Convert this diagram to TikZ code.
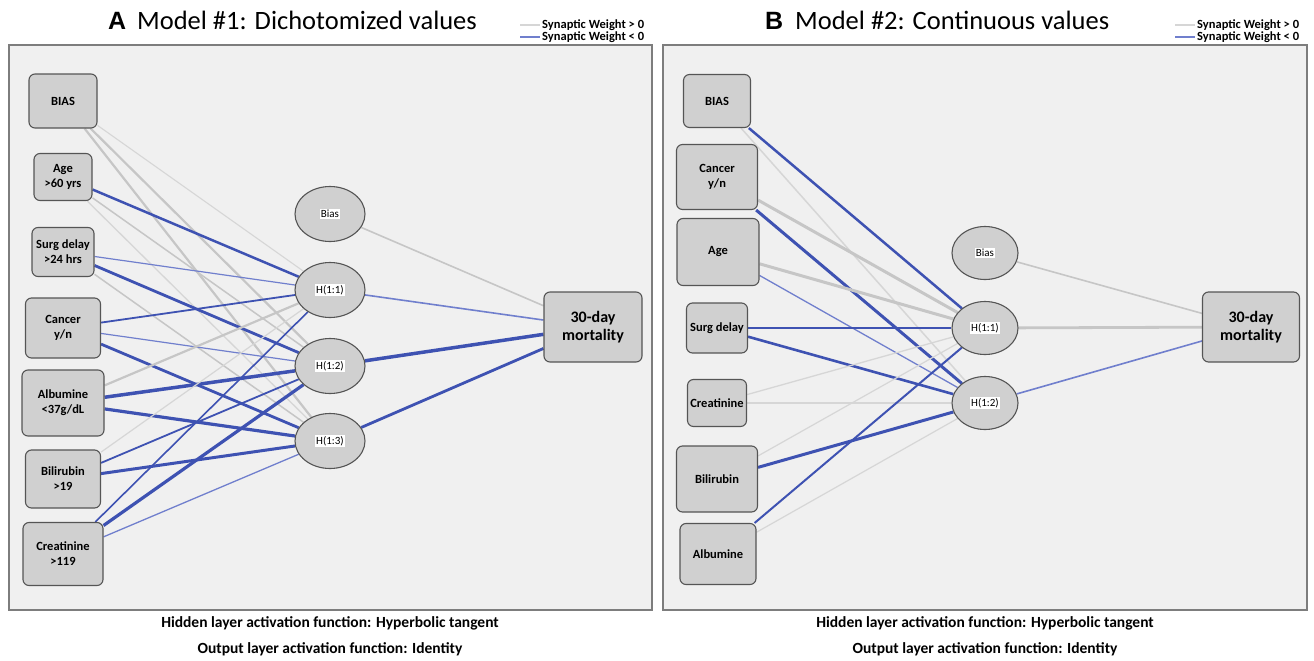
\documentclass[tikz,border=0pt]{standalone}
\usepackage{fontspec}
\setmainfont{Carlito}
\newfontfamily\arialfont{Liberation Sans}
\usetikzlibrary{shapes.geometric}
\definecolor{wneg}{RGB}{62,82,178}
\definecolor{wnegl}{RGB}{112,127,205}
\definecolor{wpos}{RGB}{198,198,198}
\definecolor{wposl}{RGB}{214,214,214}
\definecolor{panelbg}{RGB}{240,240,240}
\definecolor{nodefill}{RGB}{208,208,208}
\definecolor{nodeline}{RGB}{85,85,85}
\definecolor{framecol}{RGB}{125,125,125}
\newcommand\hidlab[1]{{\setlength{\fboxsep}{1pt}\colorbox{white}{#1}}}
\pgfdeclarelayer{bglayer}
\pgfdeclarelayer{edgelayer}
\pgfsetlayers{bglayer,edgelayer,main}
\begin{document}
\begin{tikzpicture}[x=1pt,y=-1pt,
  inbox/.style={draw=nodeline, fill=nodefill, rounded corners=6pt, line width=1.1pt, align=center, inner sep=0pt, font=\fontsize{12.5}{15}\selectfont\bfseries},
  outbox/.style={inbox, font=\fontsize{16}{18.5}\selectfont\bfseries},
  sz/.style 2 args={minimum width=#1pt, minimum height=#2pt},
  hid/.style={ellipse, draw=nodeline, fill=nodefill, line width=1.1pt, inner sep=0pt, minimum width=70pt, minimum height=55pt, font=\fontsize{11}{12}\selectfont},
  hidb/.style={hid, minimum width=66pt, minimum height=53pt},
  wminus/.style={draw=wneg, line width=#1pt},
  wminusl/.style={draw=wnegl, line width=#1pt},
  wplus/.style={draw=wpos, line width=#1pt},
  wplusl/.style={draw=wposl, line width=#1pt},
  panel/.style={draw=framecol, fill=panelbg, line width=1.6pt},
  legtext/.style={anchor=west, inner sep=0pt, font=\fontsize{12.5}{13}\selectfont\bfseries},
  captext/.style={font=\fontsize{15.5}{17}\selectfont\bfseries},
  lettitle/.style={anchor=base west, inner sep=0pt, font=\arialfont\bfseries\fontsize{25}{25}\selectfont},
  texttitle/.style={anchor=base west, inner sep=0pt, font=\fontsize{26.5}{27}\selectfont}
]
\useasboundingbox (0,0) rectangle (1314,661);
\begin{pgfonlayer}{bglayer}
\fill[white] (0,0) rectangle (1314,661);
\draw[panel] (9,45) rectangle (652,610);
\draw[panel] (663,45) rectangle (1307,610);
\end{pgfonlayer}

% ---------- titles ----------
\node[lettitle] (ta) at (108,30) {A};
\node[texttitle] (tta) at (137,30) {Model \#1: Dichotomized values};
\node[lettitle] (tb) at (765,30) {B};
\node[texttitle] (ttb) at (795,30) {Model \#2: Continuous values};

% ---------- legends ----------
\coordinate (la1) at (520,25); \coordinate (la2) at (540,25);
\coordinate (la3) at (520,37); \coordinate (la4) at (540,37);
\draw[wplusl=2] (la1) -- (la2);
\draw[wminusl=2] (la3) -- (la4);
\node[legtext] (lta) at (542,25) {Synaptic Weight > 0};
\node[legtext] (ltb) at (542,37) {Synaptic Weight < 0};
\coordinate (lb1) at (1175,25); \coordinate (lb2) at (1195,25);
\coordinate (lb3) at (1175,37); \coordinate (lb4) at (1195,37);
\draw[wplusl=2] (lb1) -- (lb2);
\draw[wminusl=2] (lb3) -- (lb4);
\node[legtext] (ltc) at (1197,25) {Synaptic Weight > 0};
\node[legtext] (ltd) at (1197,37) {Synaptic Weight < 0};

% ---------- captions ----------
\node[captext] (ca1) at (330,623) {Hidden layer activation function: Hyperbolic tangent};
\node[captext] (ca2) at (330,649) {Output layer activation function: Identity};
\node[captext] (cb1) at (985,623) {Hidden layer activation function: Hyperbolic tangent};
\node[captext] (cb2) at (985,649) {Output layer activation function: Identity};

% ---------- panel A nodes ----------
\node[inbox, sz={68}{54}] (a1) at (63,101) {BIAS};
\node[inbox, sz={58}{47}] (a2) at (63,177) {Age\\>60 yrs};
\node[inbox, sz={62}{49}] (a3) at (63,252) {Surg delay\\>24 hrs};
\node[inbox, sz={75}{60}] (a4) at (63,328) {Cancer\\y/n};
\node[inbox, sz={82}{66}] (a5) at (63,403) {Albumine\\<37g/dL};
\node[inbox, sz={75}{58}] (a6) at (63,479) {Bilirubin\\>19};
\node[inbox, sz={80}{63}] (a7) at (63,554) {Creatinine\\>119};
\node[hid] (ab) at (330,214) {\hidlab{Bias}};
\node[hid] (ah1) at (330,290) {\hidlab{H(1:1)}};
\node[hid] (ah2) at (330,366) {\hidlab{H(1:2)}};
\node[hid] (ah3) at (330,441) {\hidlab{H(1:3)}};
\node[outbox, sz={98}{70}] (ao) at (593,327) {30-day\\mortality};

% ---------- panel B nodes ----------
\node[inbox, sz={67}{53}] (b1) at (717,101) {BIAS};
\node[inbox, sz={81}{65}] (b2) at (717,177) {Cancer\\y/n};
\node[inbox, sz={82}{67}] (b3) at (718,252) {Age};
\node[inbox, sz={61}{50}] (b4) at (717,328) {Surg delay};
\node[inbox, sz={59}{47}] (b5) at (717,403) {Creatinine};
\node[inbox, sz={81}{66}] (b6) at (717,479) {Bilirubin};
\node[inbox, sz={76}{61}] (b7) at (718,554) {Albumine};
\node[hidb] (bb) at (985,253) {\hidlab{Bias}};
\node[hidb] (bh1) at (985,328) {\hidlab{H(1:1)}};
\node[hidb] (bh2) at (985,403) {\hidlab{H(1:2)}};
\node[outbox, sz={97}{70}] (bo) at (1251,327) {30-day\\mortality};

\begin{pgfonlayer}{edgelayer}
% panel A: inputs -> hidden
\draw[wplusl=1.1] (a1) -- (ah1);
\draw[wplus=2.2] (a1) -- (ah2);
\draw[wplus=2.2] (a1) -- (ah3);
\draw[wminus=2.5] (a2) -- (ah1);
\draw[wplus=1.5] (a2) -- (ah2);
\draw[wplusl=1.3] (a2) -- (ah3);
\draw[wminusl=1.2] (a3) -- (ah1);
\draw[wminus=2.8] (a3) -- (ah2);
\draw[wplus=1.5] (a3) -- (ah3);
\draw[wminus=1.8] (a4) -- (ah1);
\draw[wminusl=1.2] (a4) -- (ah2);
\draw[wminus=2.8] (a4) -- (ah3);
\draw[wplus=2.2] (a5) -- (ah1);
\draw[wminus=3.5] (a5) -- (ah2);
\draw[wminus=3.2] (a5) -- (ah3);
\draw[wplusl=1.2] (a6) -- (ah1);
\draw[wminus=1.8] (a6) -- (ah2);
\draw[wminus=3] (a6) -- (ah3);
\draw[wminus=1.6] (a7) -- (ah1);
\draw[wminus=3.2] (a7) -- (ah2);
\draw[wminusl=1.3] (a7) -- (ah3);
% panel A: hidden -> output
\draw[wplus=1.6] (ab) -- (ao);
\draw[wminusl=1.6] (ah1) -- (ao);
\draw[wminus=3.5] (ah2) -- (ao);
\draw[wminus=2.8] (ah3) -- (ao);
% panel B: inputs -> hidden
\draw[wminus=2.5] (b1) -- (bh1);
\draw[wplusl=1.5] (b1) -- (bh2);
\draw[wplus=3] (b2) -- (bh1);
\draw[wminus=3] (b2) -- (bh2);
\draw[wplus=3] (b3) -- (bh1);
\draw[wminusl=1.3] (b3) -- (bh2);
\draw[wminus=2] (b4) -- (bh1);
\draw[wminus=2.6] (b4) -- (bh2);
\draw[wplusl=1.3] (b5) -- (bh1);
\draw[wplusl=1.5] (b5) -- (bh2);
\draw[wplusl=1.2] (b6) -- (bh1);
\draw[wminus=3] (b6) -- (bh2);
\draw[wminus=2] (b7) -- (bh1);
\draw[wplusl=1.2] (b7) -- (bh2);
% panel B: hidden -> output
\draw[wplus=1.6] (bb) -- (bo);
\draw[wplus=2.8] (bh1) -- (bo);
\draw[wminusl=1.6] (bh2) -- (bo);
\end{pgfonlayer}
\end{tikzpicture}
\end{document}
